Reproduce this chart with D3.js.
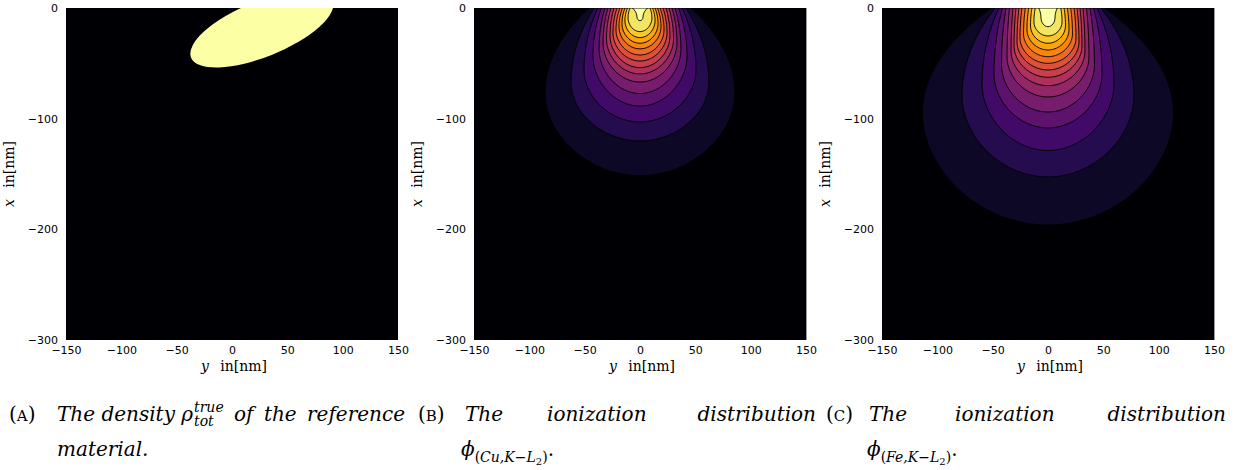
<!DOCTYPE html>
<html><head><meta charset="utf-8">
<script src="https://cdn.jsdelivr.net/npm/d3@7"></script>
<style>
body{margin:0;background:#fff}
svg{display:block}
.tick text{font-family:"DejaVu Sans",sans-serif;font-size:11px;fill:#000}
.cap{font-family:"DejaVu Serif",serif;fill:#000}
.ttl{font-family:"DejaVu Serif",serif;fill:#000}
</style>
</head><body>
<svg id="c" width="1246" height="470"></svg>
<script>
// ---------- data ----------
const xTicks = [-150, -100, -50, 0, 50, 100, 150];   // horizontal axis: y in nm
const yTicks = [0, -100, -200, -300];                // vertical axis: x in nm

// Panel A: reference material (density region), in nm
const ellipseCenter = [27, -19];     // [y, x]
const ellipseSemiAxes = [69, 25];    // [major, minor]
const ellipseTiltDeg = [22];

// Contour levels (band index 1..15, outer to inner)
const levelIndex = [1,2,3,4,5,6,7,8,9,10,11,12,13,14,15];

// Panel B: phi(Cu,K-L2) contours, nm: half-width at surface, max half-width, depth of max, deepest point
const cuTopHalfWidth = [46.1, 41.6, 38.0, 34.8, 31.6, 28.9, 26.2, 23.5, 20.8, 18.1, 15.8, 13.6, 11.3, 9.0, 6.8];
const cuMaxHalfWidth = [85.8, 62.3, 50.6, 42.5, 37.0, 33.4, 30.3, 27.1, 24.4, 21.7, 19.0, 16.3, 13.6, 10.8, 2.7];
const cuMaxDepth     = [76.8, 67.8, 56.0, 43.4, 37.0, 31.6, 28.0, 25.3, 22.6, 19.9, 17.2, 14.5, 11.7, 9.0, 8.1];
const cuBottomDepth  = [151.5, 120.2, 103.0, 88.6, 77.3, 66.9, 59.6, 53.9, 47.9, 42.5, 37.0, 31.9, 26.8, 21.4, 11.5];

// Panel C: phi(Fe,K-L2) contours
const feTopHalfWidth = [51.5, 47.9, 44.3, 41.1, 38.0, 34.8, 31.6, 28.9, 26.2, 23.5, 20.5, 17.4, 14.5, 11.5, 8.4];
const feMaxHalfWidth = [113.4, 77.7, 59.6, 48.8, 42.0, 37.0, 33.4, 30.7, 28.0, 25.3, 22.1, 19.0, 15.8, 12.7, 6.3];
const feMaxDepth     = [94.9, 79.5, 68.7, 59.6, 51.5, 44.3, 38.9, 34.3, 30.7, 27.1, 23.5, 19.9, 16.3, 12.7, 9.0];
const feBottomDepth  = [196.1, 152.7, 128.8, 108.4, 94.0, 80.4, 70.2, 62.6, 56.0, 50.0, 44.0, 38.0, 31.9, 25.3, 16.9];

// ---------- layout ----------
const svg = d3.select('#c');
const panelLefts = [66, 474, 882];
const plotTop = 8, plotSize = 332;
const color = d3.scaleSequential(d3.interpolateInferno).domain([0, 15]);

function makeScales(x0) {
  return {
    xs: d3.scaleLinear().domain([-150, 150]).range([x0, x0 + plotSize]),
    ys: d3.scaleLinear().domain([0, -300]).range([plotTop, plotTop + plotSize])
  };
}

function bulbPath(xs, ys, T, M, D, B) {
  const X = v => xs(v), Y = v => ys(-v);
  const p = d3.path();
  const c1 = T + 0.3 * (M - T);
  p.moveTo(X(-T), Y(0));
  p.bezierCurveTo(X(-c1), Y(0.15 * D), X(-M), Y(0.5 * D), X(-M), Y(D));
  p.bezierCurveTo(X(-M), Y(D + 0.5 * (B - D)), X(-0.55 * M), Y(B), X(0), Y(B));
  p.bezierCurveTo(X(0.55 * M), Y(B), X(M), Y(D + 0.5 * (B - D)), X(M), Y(D));
  p.bezierCurveTo(X(M), Y(0.5 * D), X(c1), Y(0.15 * D), X(T), Y(0));
  p.closePath();
  return p.toString();
}

function drawPanel(i, drawContent) {
  const x0 = panelLefts[i];
  const {xs, ys} = makeScales(x0);
  const g = svg.append('g');
  const clipId = 'clip' + i;
  svg.append('defs').append('clipPath').attr('id', clipId)
    .append('rect').attr('x', x0).attr('y', plotTop).attr('width', plotSize).attr('height', plotSize);
  const plot = g.append('g').attr('clip-path', `url(#${clipId})`);
  plot.append('rect').attr('x', x0).attr('y', plotTop).attr('width', plotSize).attr('height', plotSize)
    .attr('fill', color(0));
  drawContent(plot, xs, ys);

  // axes
  const ax = g.append('g').attr('transform', `translate(0,${plotTop + plotSize})`)
    .call(d3.axisBottom(xs).tickValues(xTicks).tickSize(0).tickPadding(6));
  ax.select('.domain').remove();
  const ay = g.append('g').attr('transform', `translate(${x0},0)`)
    .call(d3.axisLeft(ys).tickValues(yTicks).tickSize(0).tickPadding(8));
  ay.select('.domain').remove();

  // axis titles
  const tx = g.append('text').attr('class', 'ttl').style('font-size', '14px')
    .attr('x', x0 + plotSize / 2 + 2).attr('y', 371).attr('text-anchor', 'middle');
  tx.append('tspan').style('font-style', 'italic').text('y');
  tx.append('tspan').text('\u2002 in[nm]');
  const ty = g.append('text').attr('class', 'ttl').style('font-size', '14px')
    .attr('transform', `translate(${x0 - 52},${plotTop + plotSize / 2}) rotate(-90)`)
    .attr('text-anchor', 'middle');
  ty.append('tspan').style('font-style', 'italic').text('x');
  ty.append('tspan').text('\u2002 in[nm]');
}

// Panel A
drawPanel(0, (plot, xs, ys) => {
  const cx = xs(ellipseCenter[0]), cy = ys(ellipseCenter[1]);
  plot.append('ellipse')
    .attr('cx', cx).attr('cy', cy)
    .attr('rx', xs(ellipseSemiAxes[0]) - xs(0))
    .attr('ry', ys(-ellipseSemiAxes[1]) - ys(0))
    .attr('transform', `rotate(${-ellipseTiltDeg[0]},${cx},${cy})`)
    .attr('fill', color(15));
});

function contourPanel(i, top, maxW, maxD, bottom) {
  drawPanel(i, (plot, xs, ys) => {
    plot.selectAll('path.band').data(levelIndex).join('path')
      .attr('class', 'band')
      .attr('d', (L, k) => bulbPath(xs, ys, top[k], maxW[k], maxD[k], bottom[k]))
      .attr('fill', L => color(L))
      .attr('stroke', '#000')
      .attr('stroke-width', 0.9);
  });
  const x0 = panelLefts[i];
  svg.append('line').attr('x1', x0 + plotSize + 0.5).attr('x2', x0 + plotSize + 0.5)
    .attr('y1', plotTop).attr('y2', plotTop + plotSize).attr('stroke', '#999').attr('stroke-width', 1);
}
contourPanel(1, cuTopHalfWidth, cuMaxHalfWidth, cuMaxDepth, cuBottomDepth);
contourPanel(2, feTopHalfWidth, feMaxHalfWidth, feMaxDepth, feBottomDepth);

// ---------- captions ----------
const FS = 20;
function txt(x, y, s, size, italic, anchor) {
  return svg.append('text').attr('class', 'cap').attr('x', x).attr('y', y)
    .attr('text-anchor', anchor || 'start')
    .style('font-size', size + 'px').style('font-style', italic ? 'italic' : 'normal')
    .text(s);
}
function label(x, y, letter) {
  const t = svg.append('text').attr('class', 'cap').attr('x', x).attr('y', y)
    .style('font-size', FS + 'px').style('font-style', 'normal');
  t.append('tspan').text('(');
  t.append('tspan').style('font-size', '15px').text(letter);
  t.append('tspan').text(')');
}
const L1 = 421, L2 = 456;

// (A) — first line justified between x=57 and x=405
label(9, L1, 'A');
const a1 = txt(57, L1, 'The density \u03C1', FS, true);
const wA = a1.node().getComputedTextLength();
const sup = txt(57 + wA + 1, L1 - 9, 'true', 14, true);
txt(57 + wA + 1, L1 + 5, 'tot', 14, true);
const wS = sup.node().getComputedTextLength();
const restWords = ['of', 'the', 'reference'];
const wordEls = restWords.map(w => txt(0, L1, w, FS, true));
const widths = wordEls.map(e => e.node().getComputedTextLength());
const startX = 57 + wA + wS + 1, endX = 405;
const gap = (endX - startX - d3.sum(widths)) / restWords.length;
let cur = startX + gap;
wordEls.forEach((e, k) => { e.attr('x', cur); cur += widths[k] + gap; });
txt(57, L2, 'material.', FS, true);

// (B) and (C)
function phiLine(x, el) {
  const t = svg.append('text').attr('class', 'cap').attr('x', x).attr('y', L2)
    .style('font-size', FS + 'px').style('font-style', 'italic');
  t.append('tspan').text('\u03D5');
  t.append('tspan').style('font-size', '14px').attr('dy', 6).style('font-style', 'normal').text('(');
  t.append('tspan').style('font-size', '14px').text(el + ',K');
  t.append('tspan').style('font-size', '14px').style('font-style', 'normal').text('\u2212');
  t.append('tspan').style('font-size', '14px').text('L');
  t.append('tspan').style('font-size', '10px').attr('dy', 3).style('font-style', 'normal').text('2');
  t.append('tspan').style('font-size', '14px').attr('dy', -3).style('font-style', 'normal').text(')');
  t.append('tspan').attr('dy', -6).style('font-style', 'normal').text('.');
}
label(418, L1, 'B');
txt(465, L1, 'The', FS, true);
txt(547, L1, 'ionization', FS, true);
txt(816, L1, 'distribution', FS, true, 'end');
phiLine(461, 'Cu');

label(826, L1, 'C');
txt(869, L1, 'The', FS, true);
txt(955, L1, 'ionization', FS, true);
txt(1226, L1, 'distribution', FS, true, 'end');
phiLine(867, 'Fe');
</script>
</body></html>
